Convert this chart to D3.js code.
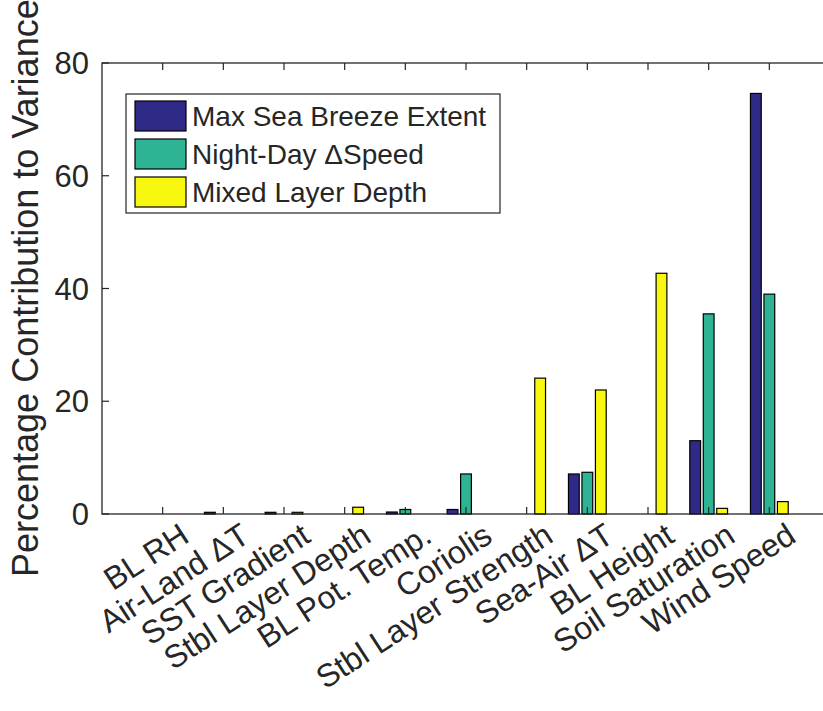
<!DOCTYPE html>
<html>
<head>
<meta charset="utf-8">
<script src="https://cdn.jsdelivr.net/npm/d3@7"></script>
<style>
    body { margin: 0; background: #fff; }
    text { font-family: "Liberation Sans", Arial, Helvetica, sans-serif; fill: #262626; }
</style>
</head>
<body>
<script>
//categories along the x axis
var categories = ["BL RH", "Air-Land \u0394T", "SST Gradient", "Stbl Layer Depth", "BL Pot. Temp.",
    "Coriolis", "Stbl Layer Strength", "Sea-Air \u0394T", "BL Height", "Soil Saturation", "Wind Speed"];

//series values (percent contribution to variance)
var maxBreezeExtent = [0, 0.3, 0.3, 0, 0.35, 0.8, 0, 7.1, 0, 13.0, 74.6];
var nightDaySpeed = [0, 0, 0, 0, 0.8, 7.1, 0, 7.4, 0, 35.5, 39.0];
var mixedLayerDepth = [0, 0, 0.3, 1.2, 0, 0, 24.1, 22.0, 42.7, 1.0, 2.2];

var seriesNames = ["Max Sea Breeze Extent", "Night-Day \u0394Speed", "Mixed Layer Depth"];
var yTicks = [0, 20, 40, 60, 80];

window.onload = setChart();

function setChart(){

    //frame dimensions
    var width = 823,
        height = 711;

    var svg = d3.select("body")
        .append("svg")
        .attr("width", width)
        .attr("height", height);

    svg.append("rect")
        .attr("width", width)
        .attr("height", height)
        .attr("fill", "#fff");

    //axes box (right edge falls just outside the frame)
    var left = 102, right = 830, top = 63, bottom = 514;

    var x = d3.scaleLinear()
        .domain([0, categories.length + 1])
        .range([left, right]);

    var y = d3.scaleLinear()
        .domain([0, 80])
        .range([bottom, top]);

    var colors = ["#2f2a87", "#2eb395", "#f8f70f"];
    var series = [maxBreezeExtent, nightDaySpeed, mixedLayerDepth];

    //matlab grouped bar geometry
    var nSeries = series.length;
    var groupWidth = Math.min(0.8, nSeries / (nSeries + 1.5));
    var step = groupWidth / nSeries;
    var barW = 0.8 * step;

    var tickLen = 7;

    //bars
    series.forEach(function(vals, s){
        var offset = (s - (nSeries - 1) / 2) * step;
        svg.selectAll(".bar" + s)
            .data(vals)
            .enter()
            .append("rect")
            .attr("class", "bar" + s)
            .attr("x", function(d, i){ return x(i + 1 + offset - barW / 2); })
            .attr("width", x(barW) - x(0))
            .attr("y", function(d){ return y(d); })
            .attr("height", function(d){ return y(0) - y(d); })
            .attr("fill", colors[s])
            .attr("stroke", "#000")
            .attr("stroke-width", 1.2);
    });

    //axes box
    var axisColor = "#262626";
    svg.append("rect")
        .attr("x", left)
        .attr("y", top)
        .attr("width", right - left)
        .attr("height", bottom - top)
        .attr("fill", "none")
        .attr("stroke", axisColor)
        .attr("stroke-width", 1.3);

    //inward x ticks on top and bottom
    var xIdx = d3.range(1, categories.length + 1);
    svg.selectAll(".xtickB")
        .data(xIdx)
        .enter()
        .append("line")
        .attr("x1", function(d){ return x(d); })
        .attr("x2", function(d){ return x(d); })
        .attr("y1", bottom)
        .attr("y2", bottom - tickLen)
        .attr("stroke", axisColor)
        .attr("stroke-width", 1.2);

    svg.selectAll(".xtickT")
        .data(xIdx)
        .enter()
        .append("line")
        .attr("x1", function(d){ return x(d); })
        .attr("x2", function(d){ return x(d); })
        .attr("y1", top)
        .attr("y2", top + tickLen)
        .attr("stroke", axisColor)
        .attr("stroke-width", 1.2);

    //inward y ticks left and right
    svg.selectAll(".ytickL")
        .data(yTicks)
        .enter()
        .append("line")
        .attr("x1", left)
        .attr("x2", left + tickLen)
        .attr("y1", function(d){ return y(d); })
        .attr("y2", function(d){ return y(d); })
        .attr("stroke", axisColor)
        .attr("stroke-width", 1.2);

    svg.selectAll(".ytickR")
        .data(yTicks)
        .enter()
        .append("line")
        .attr("x1", right)
        .attr("x2", right - tickLen)
        .attr("y1", function(d){ return y(d); })
        .attr("y2", function(d){ return y(d); })
        .attr("stroke", axisColor)
        .attr("stroke-width", 1.2);

    //y tick labels
    svg.selectAll(".ylab")
        .data(yTicks)
        .enter()
        .append("text")
        .attr("x", left - 13)
        .attr("y", function(d){ return y(d); })
        .attr("dy", "0.36em")
        .attr("text-anchor", "end")
        .style("font-size", "31px")
        .text(function(d){ return d; });

    //rotated x tick labels
    svg.selectAll(".xlab")
        .data(categories)
        .enter()
        .append("text")
        .attr("transform", function(d, i){
            return "translate(" + (x(i + 1) + 22) + "," + (bottom + 17) + ") rotate(-33)";
        })
        .attr("dy", "0.36em")
        .attr("text-anchor", "end")
        .style("font-size", "32px")
        .text(function(d){ return d; });

    //y axis title
    svg.append("text")
        .attr("transform", "translate(38,577) rotate(-90)")
        .attr("text-anchor", "start")
        .style("font-size", "36px")
        .text("Percentage Contribution to Variance");

    //legend
    var legend = svg.append("g");
    legend.append("rect")
        .attr("x", 126)
        .attr("y", 94)
        .attr("width", 374)
        .attr("height", 119)
        .attr("fill", "#fff")
        .attr("stroke", axisColor)
        .attr("stroke-width", 1.2);

    var rows = legend.selectAll(".legRow")
        .data(seriesNames)
        .enter()
        .append("g")
        .attr("transform", function(d, i){ return "translate(0," + (101 + i * 38) + ")"; });

    rows.append("rect")
        .attr("x", 135)
        .attr("width", 51)
        .attr("height", 30)
        .attr("fill", function(d, i){ return colors[i]; })
        .attr("stroke", "#000")
        .attr("stroke-width", 1.2);

    rows.append("text")
        .attr("x", 192)
        .attr("y", 15)
        .attr("dy", "0.36em")
        .style("font-size", "28px")
        .text(function(d){ return d; });
};
</script>
</body>
</html>
